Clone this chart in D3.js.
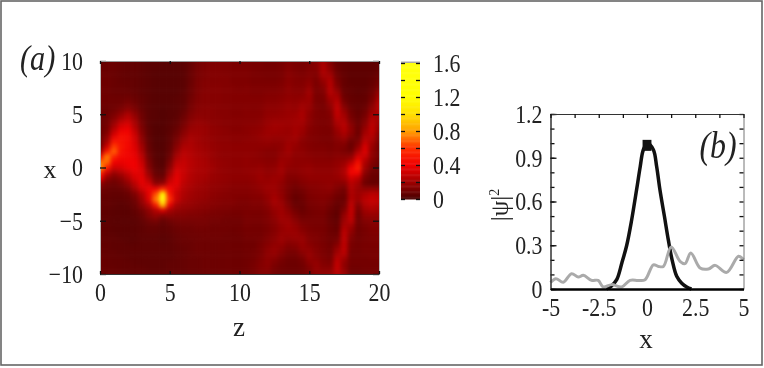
<!DOCTYPE html>
<html>
<head>
<meta charset="utf-8">
<script src="https://cdn.jsdelivr.net/npm/d3@7"></script>
<style>
  html, body { margin: 0; background: #fff; }
  svg { display: block; filter: blur(0.45px); }
  text { font-family: "Liberation Serif", serif; fill: #222; }
</style>
</head>
<body>
<svg id="chart" width="764" height="368"></svg>
<script>
// |psi|^2 map, in 1/120 units. one row per x (10 down to -10, step .5), one value per z (0 to 20, step .5)
const mapUnit = 120;
const mapRows = [
  [9,9,9,8,7,7,6,5,5,4,4,4,5,8,12,14,15,15,15,14,14, 14,13,13,12,12,13,15,14,13,14,18,26,15,8,7,6,6,6,6,7],
  [9,9,9,8,7,7,6,5,5,4,4,4,5,8,12,14,15,15,15,14,14, 14,13,13,12,12,13,16,14,13,15,17,28,18,9,7,6,6,6,6,7],
  [10,9,9,8,7,7,6,5,4,4,4,4,5,9,13,15,16,16,15,15,15, 15,14,13,13,13,14,17,15,14,16,16,28,21,10,7,6,6,6,6,8],
  [10,10,9,8,7,7,6,5,4,4,4,4,5,9,13,15,16,16,16,15,15, 15,14,14,13,13,14,18,16,15,17,15,25,26,12,8,6,6,6,7,10],
  [10,10,9,8,8,7,6,5,4,4,4,4,5,9,14,16,16,16,16,15,15, 15,14,14,14,14,15,18,16,16,19,14,20,30,14,8,6,6,6,8,12],
  [11,10,9,9,8,7,6,5,4,4,4,4,5,10,14,16,17,17,16,16,15, 16,15,15,15,15,16,19,17,17,21,14,17,30,17,8,7,6,6,9,15],
  [11,10,9,9,9,8,6,5,4,4,4,4,6,10,15,17,17,17,16,16,16, 16,15,15,16,16,17,19,18,18,24,14,15,30,23,9,7,6,7,11,21],
  [11,10,10,10,11,9,7,5,4,4,4,5,6,11,15,17,17,17,16,16,16, 16,16,16,17,17,18,20,19,20,23,14,14,25,28,11,8,7,7,13,26],
  [11,10,10,11,14,11,7,5,4,4,4,5,6,12,16,17,17,17,16,16,16, 16,16,16,18,18,19,21,20,23,22,14,13,21,32,14,8,7,8,16,30],
  [9,9,11,14,18,14,8,5,4,3,4,5,7,13,17,18,18,17,17,16,16, 17,16,17,19,19,20,22,21,25,21,15,13,18,34,19,10,7,10,20,30],
  [9,10,14,20,28,19,10,5,4,3,4,5,9,15,18,18,18,17,17,16,16, 17,17,17,20,20,21,22,23,27,19,15,14,16,34,24,12,8,12,25,27],
  [9,11,18,28,34,24,11,5,4,3,4,6,11,17,20,19,18,18,17,17,17, 17,17,18,21,22,22,23,24,26,19,15,14,15,30,27,14,9,15,29,24],
  [9,12,24,38,42,28,13,5,3,3,5,7,13,20,22,21,19,18,17,17,17, 18,18,19,22,24,24,23,25,24,18,15,14,15,26,31,18,10,18,32,22],
  [9,14,32,46,48,33,15,6,3,3,5,9,16,22,23,22,20,19,18,17,17, 18,19,20,23,24,23,22,25,23,17,15,14,14,22,30,20,10,23,33,20],
  [9,18,42,54,52,38,18,6,3,3,6,11,19,25,24,22,20,19,18,18,18, 18,19,21,23,22,22,22,25,21,16,15,14,14,20,25,17,10,27,30,16],
  [10,24,56,56,52,40,20,7,3,3,6,14,23,27,24,22,21,19,19,18,18, 19,19,20,21,20,20,23,23,18,16,15,14,14,17,19,11,14,32,26,14],
  [12,36,74,58,52,42,24,8,3,3,7,17,27,28,25,23,21,20,19,19,19, 19,19,19,19,18,19,24,21,18,16,15,15,14,16,15,9,19,40,22,12],
  [22,60,82,56,50,44,27,9,4,3,8,21,31,29,26,24,22,20,19,19,19, 19,19,18,17,17,20,24,20,19,17,16,16,15,16,14,12,28,42,20,12],
  [52,88,64,52,50,46,32,11,4,3,10,26,33,30,27,25,22,20,19,19,19, 20,19,18,17,17,21,22,19,19,18,17,17,16,18,18,20,40,36,19,12],
  [86,84,48,46,48,48,36,14,5,3,14,32,35,31,28,26,23,21,20,19,19, 20,19,19,18,18,23,21,19,19,19,18,18,18,20,22,32,54,28,16,10],
  [96,62,38,40,46,48,40,16,6,4,18,37,36,31,28,26,24,21,20,19,19, 20,20,21,19,20,24,20,19,20,21,19,19,19,21,26,46,62,24,13,9],
  [68,36,22,28,36,44,42,21,8,6,24,42,36,30,27,26,23,21,20,19,19, 20,21,22,20,21,24,18,18,20,21,20,20,20,22,28,50,50,18,10,9],
  [48,20,14,18,28,40,44,28,12,10,32,44,35,29,26,25,22,21,20,19,19, 19,20,23,21,23,22,16,16,18,20,20,20,20,21,25,38,32,14,9,8],
  [20,12,10,13,20,32,44,38,18,20,40,44,32,28,25,23,21,20,19,18,18, 18,19,21,22,23,20,15,13,16,18,18,19,20,18,18,31,25,10,8,8],
  [12,9,8,9,13,24,38,46,46,66,50,40,30,26,23,22,20,19,18,17,17, 17,18,20,23,23,19,14,11,13,16,17,18,19,15,12,29,22,19,20,19],
  [9,8,7,7,9,15,27,44,78,140,58,36,28,24,22,21,19,18,17,16,16, 16,17,18,21,24,20,13,9,11,15,16,17,16,12,10,28,23,28,32,30],
  [8,7,6,6,7,11,22,42,88,190,70,36,26,23,21,20,18,17,16,16,15, 15,16,16,20,26,21,13,8,10,14,15,16,14,10,9,29,23,32,36,33],
  [7,7,6,5,6,9,18,30,62,110,46,26,22,21,19,18,17,16,15,15,14, 14,15,15,18,24,23,15,9,9,13,14,15,12,8,11,33,16,29,32,29],
  [7,6,5,5,5,7,12,20,30,42,26,21,19,18,17,16,15,14,14,13,13, 14,14,14,16,21,24,18,12,9,12,13,14,10,7,15,35,13,24,27,24],
  [6,6,5,5,5,6,9,16,21,16,18,16,16,15,15,14,13,13,12,12,12, 14,13,13,15,20,24,21,15,11,12,13,13,9,6,21,34,11,20,21,20],
  [6,6,5,5,5,5,7,11,13,8,11,13,13,13,13,13,12,12,11,11,11, 13,13,13,15,18,23,23,18,13,13,13,13,9,7,23,32,11,16,17,17],
  [6,6,5,5,5,5,6,8,8,6,8,10,11,11,12,12,11,11,11,11,11, 13,12,12,14,17,21,24,21,16,14,13,13,10,8,27,24,11,14,16,16],
  [7,6,5,5,5,5,6,7,7,6,7,9,10,10,11,11,11,11,11,10,11, 12,12,12,14,17,21,23,22,18,15,14,13,10,9,32,20,11,13,15,15],
  [7,6,6,5,5,5,6,6,6,5,6,8,9,10,10,11,11,11,10,10,10, 12,12,12,15,18,22,21,22,21,16,15,13,11,11,33,16,11,13,14,14],
  [7,7,6,6,5,5,6,6,6,5,6,8,9,9,10,10,10,10,10,10,10, 11,11,13,16,19,22,18,19,22,17,15,13,11,14,33,14,12,13,14,14],
  [8,7,6,6,6,6,6,6,6,6,6,7,8,9,10,10,10,10,10,10,10, 11,11,14,18,21,19,15,16,21,19,16,14,12,20,33,13,12,13,13,13],
  [8,7,7,6,6,6,6,6,6,6,6,7,8,9,10,10,10,10,10,10,10, 11,12,14,19,21,17,13,13,18,21,17,14,12,24,32,12,12,13,13,13],
  [9,8,7,7,6,6,6,6,6,6,6,7,8,9,9,10,10,10,10,10,10, 11,12,15,19,18,14,11,11,14,21,18,15,13,30,25,12,12,12,13,13],
  [9,8,7,7,7,6,6,6,6,6,7,7,8,9,9,10,10,10,10,10,10, 11,13,16,19,15,12,10,10,12,18,21,16,15,34,20,12,12,12,12,12],
  [9,8,8,7,7,7,7,6,6,6,7,7,8,9,9,10,10,10,10,10,10, 11,13,16,18,13,11,10,10,11,15,21,18,18,34,20,11,11,12,12,12],
  [9,9,8,8,7,7,7,7,7,7,7,8,8,9,9,10,10,10,10,10,10, 11,13,16,16,12,10,10,10,11,14,19,20,21,30,23,11,11,11,12,12]
];

const colorStops = [0, 0.2, 0.4, 0.6, 0.8, 1.0, 1.2, 1.6];
const colorValues = ["#480000", "#a00000", "#f00000", "#ff3000", "#ffa000", "#ffe000", "#ffff00", "#ffff10"];

const mapXTicks = [0, 5, 10, 15, 20];
const mapYTicks = [10, 5, 0, -5, -10];
const barTicks = [0, 0.4, 0.8, 1.2, 1.6];
const barMinorTicks = [0, 0.2, 0.4, 0.6, 0.8, 1.0, 1.2, 1.4, 1.6];

// panel b
const pulseX = [-2.1, -1.85, -1.57, -1.3, -1.05, -0.8, -0.54, -0.35, -0.19, 0.03, 0.33, 0.5, 0.67, 0.9, 1.1, 1.3, 1.54, 1.8, 2.06, 2.3];
const pulseY = [0, 0.02, 0.064, 0.18, 0.3, 0.47, 0.68, 0.84, 0.955, 1.0, 0.955, 0.84, 0.68, 0.5, 0.34, 0.2, 0.087, 0.04, 0.014, 0];
const peakX = [-0.23, 0.23];
const peakY = [0.985, 0.985];
const scatterX = [-5, -4.72, -4.34, -3.91, -3.56, -3.3, -2.87, -2.53, -2.27, -1.83, -1.31, -0.88, -0.45, -0.1, 0.33, 0.59, 0.85, 1.25, 1.71, 1.97, 2.27, 2.75, 3.18, 3.53, 4.13, 4.74, 5];
const scatterY = [0.045, 0.071, 0.046, 0.105, 0.082, 0.094, 0.059, 0.059, 0.014, 0.03, 0.014, 0.059, 0.059, 0.064, 0.166, 0.155, 0.155, 0.288, 0.19, 0.174, 0.247, 0.144, 0.137, 0.162, 0.114, 0.224, 0.2];
const lineXTicks = [-5, -2.5, 0, 2.5, 5];
const lineXMinor = [-5, -3.75, -2.5, -1.25, 0, 1.25, 2.5, 3.75, 5];
const lineYTicks = [0, 0.3, 0.6, 0.9, 1.2];
const lineYMinor = [0, 0.1, 0.2, 0.3, 0.4, 0.5, 0.6, 0.7, 0.8, 0.9, 1.0, 1.1, 1.2];

const svg = d3.select("#chart");

// picture frame
svg.append("rect").attr("x", 1).attr("y", 1).attr("width", 761).attr("height", 364)
  .attr("fill", "#fff").attr("stroke", "#666").attr("stroke-width", 1.6);

const defs = svg.append("defs");
defs.append("clipPath").attr("id", "mapClip").append("rect")
  .attr("x", 100).attr("y", 61).attr("width", 279).attr("height", 213);
defs.append("filter").attr("id", "soft").attr("filterUnits", "userSpaceOnUse")
  .attr("x", 60).attr("y", 20).attr("width", 360).attr("height", 300)
  .attr("color-interpolation-filters", "sRGB")
  .append("feGaussianBlur").attr("stdDeviation", 2.2);

const color = d3.scaleLinear().domain(colorStops).range(colorValues).clamp(true);

// panel a
const z = d3.scaleLinear().domain([0, 20]).range([100, 379]);
const xa = d3.scaleLinear().domain([-10, 10]).range([274, 61]);

const cells = mapRows.flatMap((row, i) =>
  row.map((v, j) => ({ z: j * 0.5, x: 10 - i * 0.5, v: v / mapUnit }))
);
svg.append("g").attr("clip-path", "url(#mapClip)")
  .append("g").attr("filter", "url(#soft)")
  .selectAll("rect")
  .data(cells)
  .join("rect")
  .attr("x", (d) => z(d.z - 0.25) - (d.z === 0 ? 12 : 0))
  .attr("y", (d) => xa(d.x + 0.25) - (d.x === 10 ? 12 : 0))
  .attr("width", (d) => z(0.5) - z(0) + 0.5 + (d.z === 0 || d.z === 20 ? 12 : 0))
  .attr("height", (d) => xa(0) - xa(0.5) + 0.5 + (d.x === 10 || d.x === -10 ? 12 : 0))
  .attr("fill", (d) => color(d.v));

// the source text is tall and narrow
function squeeze(sel) {
  sel.each(function () {
    const n = this.getComputedTextLength();
    if (n > 0) d3.select(this).attr("textLength", n * 0.84).attr("lengthAdjust", "spacingAndGlyphs");
  });
}
function styleAxis(g, domainColor) {
  g.selectAll("path.domain").attr("stroke", domainColor);
  g.selectAll(".tick line").attr("stroke", "#111").attr("stroke-width", 1.3);
  g.selectAll("text").attr("font-size", 26).call(squeeze);
}
const fmtMinus = (d) => (d < 0 ? "\u2212" + Math.abs(d) : d);

svg.append("g").attr("transform", "translate(100,0)")
  .call(d3.axisLeft(xa).tickValues(mapYTicks).tickSize(-6).tickSizeOuter(0).tickPadding(17).tickFormat(fmtMinus))
  .call(styleAxis, "#bbb");
svg.append("g").attr("transform", "translate(379,0)")
  .call(d3.axisRight(xa).tickValues(mapYTicks).tickSize(-6).tickSizeOuter(0).tickFormat(""))
  .call(styleAxis, "#bbb");
svg.append("g").attr("transform", "translate(0,274)")
  .call(d3.axisBottom(z).tickValues(mapXTicks).tickSize(-3).tickSizeOuter(0).tickPadding(9))
  .call(styleAxis, "#333");
svg.append("g").attr("transform", "translate(0,61)")
  .call(d3.axisTop(z).tickValues(mapXTicks).tickSize(-3).tickSizeOuter(0).tickFormat(""))
  .call(styleAxis, "#999");

svg.append("text").attr("x", 20).attr("y", 70).attr("font-size", 36).attr("font-style", "italic").text("(a)").call(squeeze);
svg.append("text").attr("x", 50).attr("y", 178).attr("font-size", 26).attr("text-anchor", "middle").text("x");
svg.append("text").attr("x", 239).attr("y", 336).attr("font-size", 27).attr("text-anchor", "middle").text("z");

// colour bar
const bar = d3.scaleLinear().domain([0, 1.6]).range([199, 63]);
const barSteps = d3.range(0, 1.6, 0.01);
svg.append("g").selectAll("rect")
  .data(barSteps)
  .join("rect")
  .attr("x", 401).attr("width", 19)
  .attr("y", (d) => bar(d + 0.01))
  .attr("height", (d) => bar(d) - bar(d + 0.01) + 0.5)
  .attr("fill", (d) => color(d));
svg.append("rect").attr("x", 401).attr("y", 61.5).attr("width", 19).attr("height", 1.5).attr("fill", "#aaa");
svg.append("g").attr("transform", "translate(401,0)")
  .call(d3.axisLeft(bar).tickValues(barMinorTicks).tickSize(-4).tickSizeOuter(0).tickFormat(""))
  .call(styleAxis, "none");
svg.append("g").attr("transform", "translate(420,0)")
  .call(d3.axisRight(bar).tickValues(barMinorTicks).tickSize(-4).tickSizeOuter(0).tickFormat(""))
  .call(styleAxis, "none");
svg.append("g").attr("transform", "translate(420,0)")
  .call(d3.axisRight(bar).tickValues(barTicks).tickSize(0).tickSizeOuter(0).tickPadding(13).tickFormat((d) => d))
  .call(styleAxis, "none");

// panel b
const xb = d3.scaleLinear().domain([-5, 5]).range([550.5, 743.5]);
const yb = d3.scaleLinear().domain([0, 1.2]).range([289, 114]);

const line = d3.line().x((d) => xb(d[0])).y((d) => yb(d[1]));
const smooth = d3.line().x((d) => xb(d[0])).y((d) => yb(d[1])).curve(d3.curveCatmullRom);

svg.append("path").datum(d3.zip(pulseX, pulseY))
  .attr("d", smooth).attr("fill", "none").attr("stroke", "#111").attr("stroke-width", 3.5);
svg.append("path").datum(d3.zip(peakX, peakY))
  .attr("d", line).attr("fill", "none").attr("stroke", "#111").attr("stroke-width", 11);
svg.append("path").datum(d3.zip(scatterX, scatterY))
  .attr("d", smooth).attr("fill", "none").attr("stroke", "#aaa").attr("stroke-width", 3);

svg.append("g").attr("transform", "translate(550.5,0)")
  .call(d3.axisLeft(yb).tickValues(lineYMinor).tickSize(-4).tickSizeOuter(0).tickFormat(""))
  .call(styleAxis, "#333");
svg.append("g").attr("transform", "translate(550.5,0)")
  .call(d3.axisLeft(yb).tickValues(lineYTicks).tickSize(-6).tickSizeOuter(0).tickPadding(8).tickFormat((d) => (d === 0 ? "0" : d3.format(".1f")(d))))
  .call(styleAxis, "#333");
svg.append("g").attr("transform", "translate(743.5,0)")
  .call(d3.axisRight(yb).tickValues(lineYMinor).tickSize(-4).tickSizeOuter(0).tickFormat(""))
  .call(styleAxis, "#777");
svg.append("g").attr("transform", "translate(0,114)")
  .call(d3.axisTop(xb).tickValues(lineXMinor).tickSize(-4).tickSizeOuter(0).tickFormat(""))
  .call(styleAxis, "#333");
const xbAxis = svg.append("g").attr("transform", "translate(0,289)")
  .call(d3.axisBottom(xb).tickValues(lineXTicks).tickSize(0).tickSizeOuter(0).tickPadding(9).tickFormat((d) => d))
  .call(styleAxis, "#000");
xbAxis.select("path.domain").attr("stroke-width", 2.4);

svg.append("text").attr("x", 718).attr("y", 158).attr("font-size", 38).attr("font-style", "italic").attr("text-anchor", "middle").text("(b)").call(squeeze);
svg.append("text").attr("x", 646).attr("y", 348).attr("font-size", 27).attr("text-anchor", "middle").text("x");
const psi = svg.append("text").attr("transform", "translate(508,205) rotate(-90)").attr("font-size", 25).attr("text-anchor", "middle")
  .text("|\u03c8|");
psi.append("tspan").attr("font-size", 14).attr("dy", -9).text("2");
</script>
</body>
</html>
